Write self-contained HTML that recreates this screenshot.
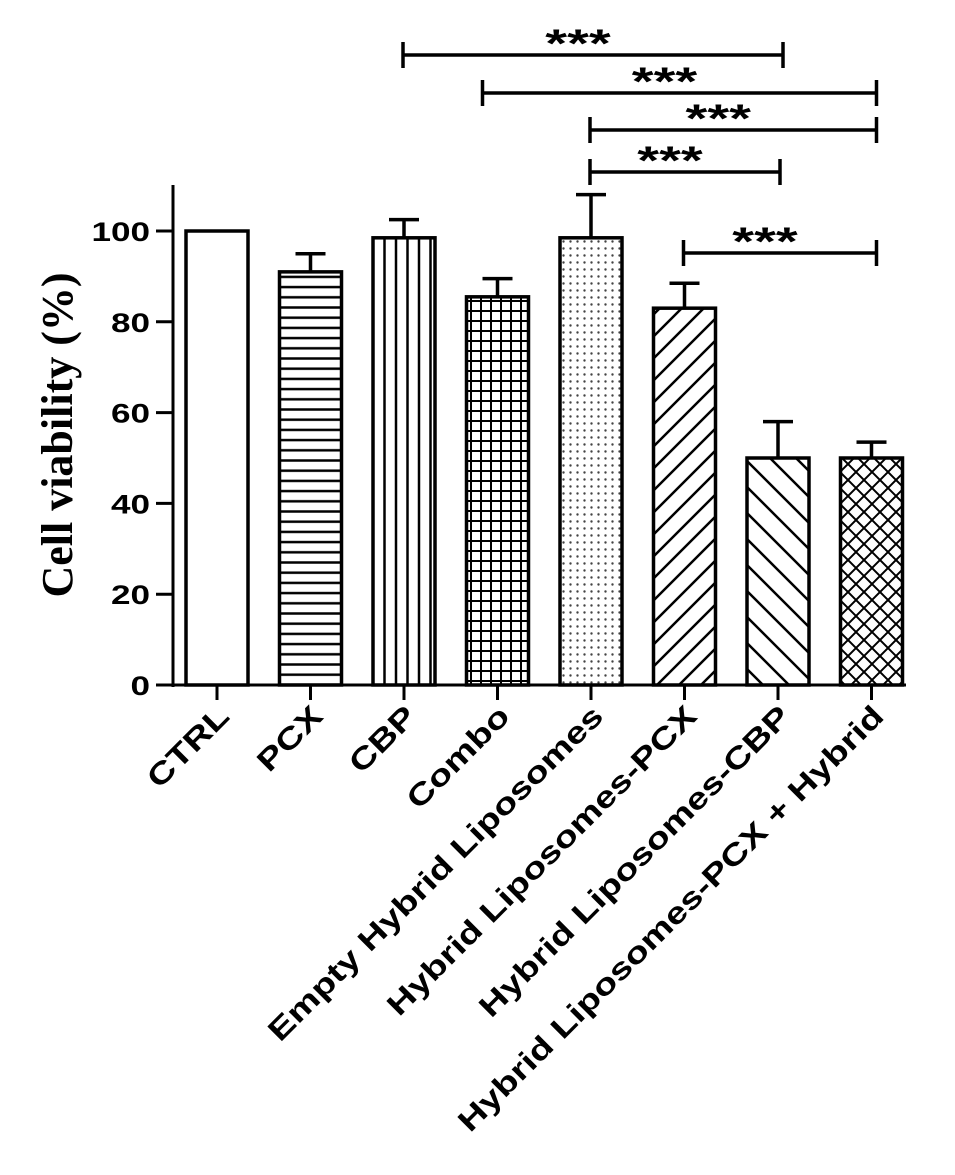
<!DOCTYPE html>
<html><head><meta charset="utf-8"><style>
body{margin:0;background:#fff}
svg{display:block;font-family:"Liberation Sans",Arial,sans-serif}
</style></head><body>
<svg id="chart" width="955" height="1175" viewBox="0 0 955 1175" xmlns="http://www.w3.org/2000/svg">
<defs>
<pattern id="p-h" width="10" height="10.2" patternUnits="userSpaceOnUse"><rect width="10" height="10.2" fill="#fff"/><line x1="0" y1="1.5" x2="10" y2="1.5" stroke="#000" stroke-width="2.5"/></pattern>
<pattern id="p-v" width="11.5" height="10" patternUnits="userSpaceOnUse"><rect width="11.5" height="10" fill="#fff"/><line x1="5" y1="0" x2="5" y2="10" stroke="#000" stroke-width="2.5"/></pattern>
<pattern id="p-g" width="10" height="10" patternUnits="userSpaceOnUse"><rect width="10" height="10" fill="#fff"/><line x1="0" y1="1" x2="10" y2="1" stroke="#000" stroke-width="2"/><line x1="1" y1="0" x2="1" y2="10" stroke="#000" stroke-width="2"/></pattern>
<pattern id="p-d" width="7" height="7" patternUnits="userSpaceOnUse"><rect width="7" height="7" fill="#fff"/><circle cx="3.5" cy="3.5" r="1.2" fill="#444"/></pattern>
<pattern id="p-f" width="22" height="22" patternUnits="userSpaceOnUse"><rect width="22" height="22" fill="#fff"/><path d="M-2,24 L24,-2 M-13,13 L13,-13 M9,35 L35,9" stroke="#000" stroke-width="2.5"/></pattern>
<pattern id="p-b" width="26" height="26" patternUnits="userSpaceOnUse"><rect width="26" height="26" fill="#fff"/><path d="M-2,-2 L28,28 M-15,11 L15,41 M11,-15 L41,15" stroke="#000" stroke-width="2.5"/></pattern>
<pattern id="p-x" width="16" height="16" patternUnits="userSpaceOnUse"><rect width="16" height="16" fill="#fff"/><path d="M0,0 L16,16 M16,0 L0,16" stroke="#000" stroke-width="2"/></pattern>
</defs>
<g id="plot"></g>
</svg>
<script>
const categories=["CTRL","PCX","CBP","Combo","Empty Hybrid Liposomes","Hybrid Liposomes-PCX","Hybrid Liposomes-CBP","Hybrid Liposomes-PCX + Hybrid"];
const values=[100,91,98.5,85.5,98.5,83,50,50];
const errors=[0,4,4,4,9.5,5.5,8,3.5];
const fills=["#fff","url(#p-h)","url(#p-v)","url(#p-g)","url(#p-d)","url(#p-f)","url(#p-b)","url(#p-x)"];
const yTicks=[0,20,40,60,80,100];
const sigFrom=[2,3,4,4,5];
const sigTo=[6,7,7,6,7];
const sigLevels=["***","***","***","***","***"];
const NS="http://www.w3.org/2000/svg";
const g=document.getElementById('plot');
const y=v=>685-v*4.54;
const xc=i=>217+i*93.5;
const bw=62;
const AX=173;
function mk(t,a,p){const e=document.createElementNS(NS,t);for(const k in a)e.setAttribute(k,a[k]);(p||g).appendChild(e);return e;}
let e=mk('line',{x1:AX,y1:185,x2:AX,y2:687,stroke:'#000','stroke-width':3});


e=mk('line',{x1:AX,y1:685,x2:906,y2:685,stroke:'#000','stroke-width':3});


yTicks.forEach(t=>{
 let l=mk('line',{x1:156,y1:y(t),x2:AX,y2:y(t),stroke:'#000','stroke-width':3});
 
 
 let tx=mk('text',{x:0,y:0,transform:`translate(150,${y(t)+10}) scale(1.3,1)`,'text-anchor':'end','font-size':27,'font-weight':'bold'});
 tx.textContent=t;
 
 
});
e=mk('text',{x:0,y:0,transform:'translate(72,435) rotate(-90)','text-anchor':'middle','font-size':44,'font-weight':'bold','font-family':'"Liberation Serif",serif'});
e.textContent='Cell viability (%)';


categories.forEach((c,i)=>{
 const cx=xc(i);
 if(errors[i]>0){
  let el=mk('path',{d:`M${cx},${y(values[i])} V${y(values[i]+errors[i])} M${cx-15},${y(values[i]+errors[i])} H${cx+15}`,stroke:'#000','stroke-width':3.5,fill:'none'});
  
  
 }
 let r=mk('rect',{x:cx-bw/2,y:y(values[i]),width:bw,height:685-y(values[i]),fill:fills[i],stroke:'#000','stroke-width':3.5});
 
 
 let l=mk('line',{x1:cx,y1:685,x2:cx,y2:700,stroke:'#000','stroke-width':3});
 
 
 let t=mk('text',{x:0,y:0,transform:`translate(${cx+14},${718}) rotate(-45)`,'text-anchor':'end','font-size':30,'font-weight':'bold'});
 t.textContent=c;
 
 
 const L=t.getComputedTextLength();
 t.setAttribute('textLength',L*1.27);
 t.setAttribute('lengthAdjust','spacingAndGlyphs');
});
const sigY=[55,93,130,172,253];
sigFrom.forEach((a,k)=>{
 const x1=xc(a)-1+(k===1?-14:0),x2=xc(sigTo[k])+(k===3?2:5);
 const yy=sigY[k];
 let p=mk('path',{d:`M${x1},${yy-13} V${yy+13} M${x1},${yy} H${x2} M${x2},${yy-13} V${yy+13}`,stroke:'#000','stroke-width':3.5,fill:'none'});
 
 
 let t=mk('text',{x:0,y:0,transform:`translate(${(x1+x2)/2-15},${yy+2}) scale(1.4,1)`,'text-anchor':'middle','font-size':40,'font-weight':'bold'});
 t.textContent=sigLevels[k];
 
 
});
</script>
</body></html>
